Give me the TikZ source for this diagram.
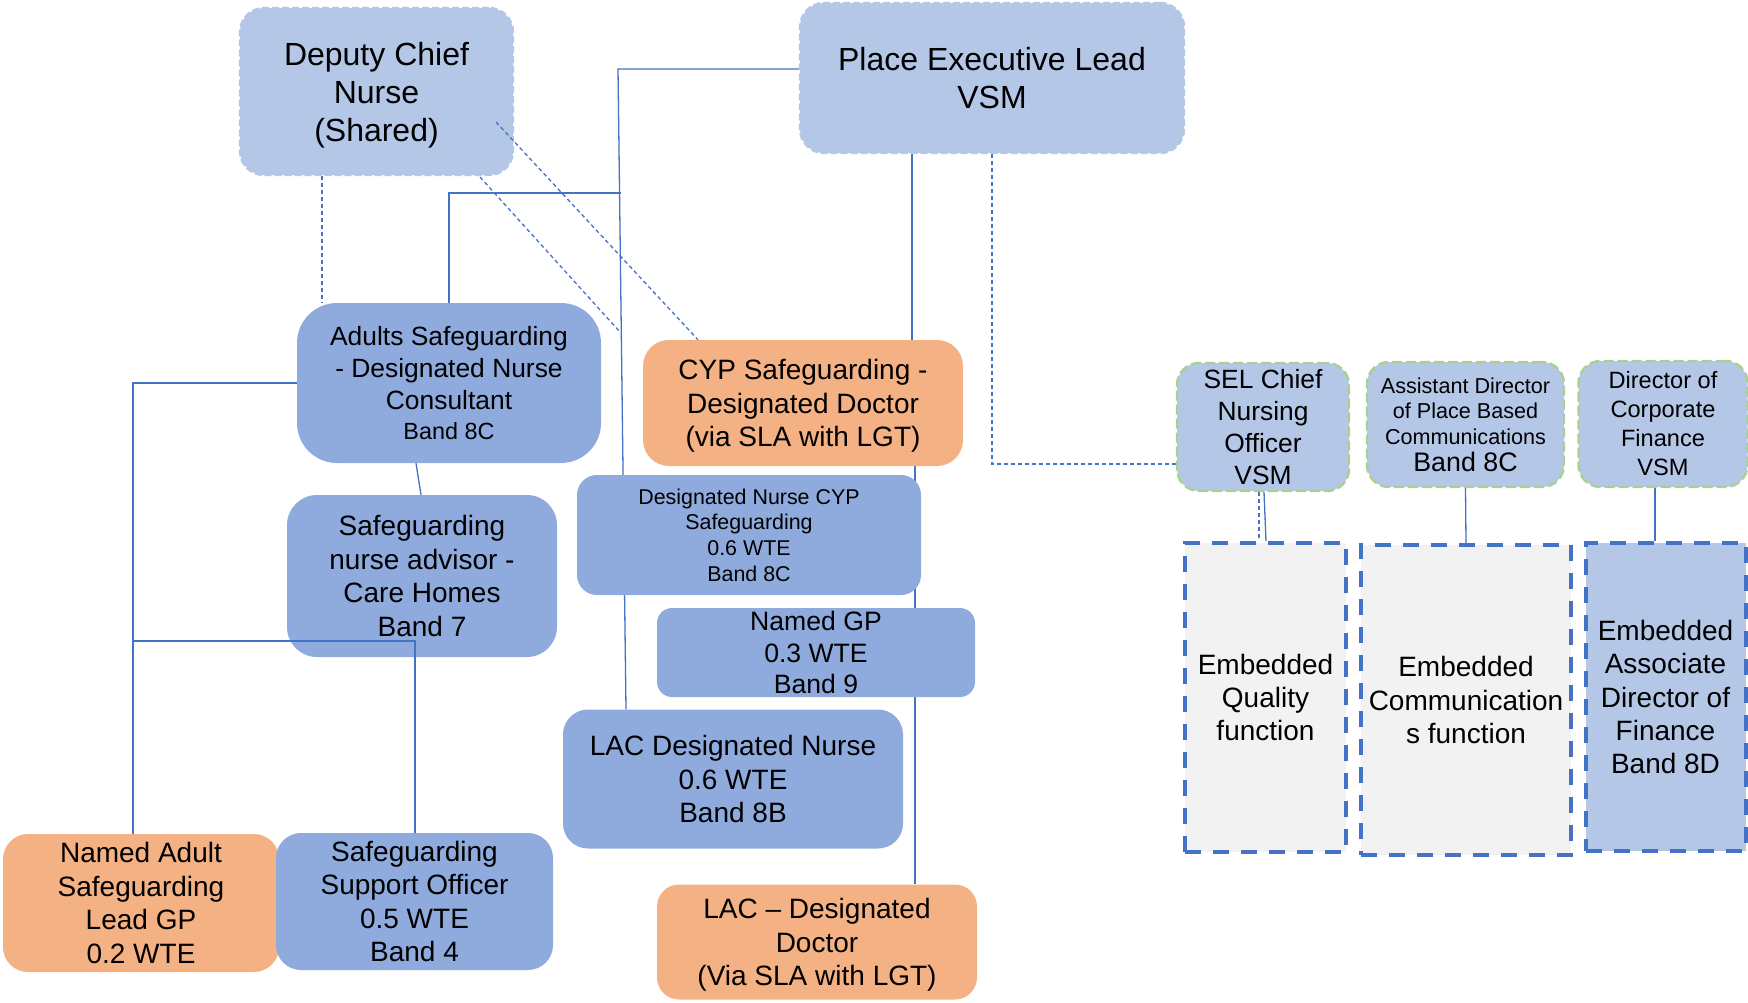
\documentclass[tikz,border=0pt]{standalone}
\usepackage{fontspec}
\setmainfont{Liberation Sans}
\usepackage{tikz}
\usetikzlibrary{positioning,backgrounds}
\usepackage{xcolor}
\definecolor{iceBlue}{HTML}{B4C7E7}
\definecolor{roleBlue}{HTML}{8FAADC}
\definecolor{gpPeach}{HTML}{F4B183}
\definecolor{lineBlue}{HTML}{4472C4}
\definecolor{leafGreen}{HTML}{A9D18E}
\definecolor{paperGrey}{HTML}{F2F2F2}
\newcommand{\fs}[2]{\fontsize{#1}{#2}\selectfont}

\begin{document}
\begin{tikzpicture}[x=1pt,y=-1pt,
  orgbox/.style={inner sep=0pt,align=center,rounded corners=#1},
  topbox/.style={orgbox=24pt,fill=iceBlue,draw=iceBlue,line width=2.4pt,dash pattern=on 7pt off 3pt},
  rolebox/.style={orgbox=#1,fill=roleBlue},
  gpbox/.style={orgbox=#1,fill=gpPeach},
  chiefbox/.style={orgbox=22pt,fill=iceBlue,draw=leafGreen,line width=2.4pt,dash pattern=on 10pt off 4pt},
  embedbox/.style={inner sep=0pt,align=center,draw=lineBlue,line width=4pt,dash pattern=on 16pt off 12pt,fill=paperGrey},
  solidlink/.style={lineBlue,line width=1.3pt},
  dashlink/.style={lineBlue,line width=1.3pt,dash pattern=on 4pt off 3pt}]
  \useasboundingbox (0,0) rectangle (1748,1002);

  \node[topbox,minimum width=273pt,minimum height=167pt,font=\fs{32}{38}] (dcn) at (376.5,91.5) {Deputy Chief\\Nurse\\\smash{(Shared)}};
  \node[topbox,minimum width=384pt,minimum height=150pt,font=\fs{32}{38}] (pel) at (992,78) {Place Executive Lead\\VSM};

  \node[rolebox=40pt,minimum width=304pt,minimum height=160pt,font=\fs{26.4}{32}] (adults) at (449,383) {Adults Safeguarding\\- Designated Nurse\\Consultant\\[-2pt]{\fs{23.4}{28}Band 8C}};
  \node[gpbox=26pt,minimum width=320pt,minimum height=126pt,font=\fs{28}{33.4}] (cyp) at (803,403) {CYP Safeguarding -\\Designated Doctor\\\smash{(via SLA with LGT)}};
  \node[rolebox=30pt,minimum width=270pt,minimum height=162pt,font=\fs{28}{33.4}] (advisor) at (422,576) {Safeguarding\\nurse advisor -\\Care Homes\\Band 7};
  \node[rolebox=20pt,minimum width=344pt,minimum height=120pt,font=\fs{21.4}{25.6}] (dncyp) at (749,535) {Designated Nurse CYP\\Safeguarding\\0.6 WTE\\Band 8C};
  \node[rolebox=15pt,minimum width=318pt,minimum height=89pt,font=\fs{26.6}{31.8}] (namedgp) at (816,652.5) {Named GP\\0.3 WTE\\Band 9};
  \node[rolebox=25pt,minimum width=340pt,minimum height=139pt,font=\fs{28}{33.4}] (lacn) at (733,779) {LAC Designated Nurse\\0.6 WTE\\Band 8B};
  \node[gpbox=25pt,minimum width=276pt,minimum height=138pt,font=\fs{28}{33.4}] (namedadult) at (141,903) {Named Adult\\Safeguarding\\Lead GP\\0.2 WTE};
  \node[rolebox=25pt,minimum width=277pt,minimum height=137pt,font=\fs{28}{33.4}] (sso) at (414.5,901.5) {Safeguarding\\Support Officer\\0.5 WTE\\Band 4};
  \node[gpbox=22pt,minimum width=320pt,minimum height=115pt,font=\fs{28}{33.4}] (lacd) at (817,942) {LAC – Designated\\Doctor\\\smash{(Via SLA with LGT)}};

  \node[chiefbox,minimum width=172pt,minimum height=128pt,font=\fs{26.4}{32}] (sel) at (1263,427) {SEL Chief\\Nursing\\Officer\\VSM};
  \node[chiefbox,minimum width=197pt,minimum height=125pt,font=\fs{21.6}{25.6}] (asst) at (1465.5,424.5) {Assistant Director\\of Place Based\\Communications\\[1.5pt]{\fs{26.8}{32}Band 8C}};
  \node[chiefbox,minimum width=169pt,minimum height=126pt,font=\fs{23.6}{29}] (dcf) at (1663,424) {Director of\\Corporate\\Finance\\VSM};

  \node[embedbox,minimum width=161pt,minimum height=309pt,font=\fs{28}{33.4}] (quality) at (1265.5,697.5) {Embedded\\Quality\\function};
  \node[embedbox,minimum width=210pt,minimum height=310pt,font=\fs{28}{33.4}] (comms) at (1466,700) {Embedded\\Communication\\s function};
  \node[embedbox,fill=iceBlue,minimum width=160pt,minimum height=308pt,font=\fs{28}{33.4}] (finance) at (1665.5,697) {Embedded\\Associate\\Director of\\Finance\\Band 8D};

  \begin{scope}[on background layer]
    \draw[solidlink] (pel.west |- 0,69) -- (618,69) -- (lacn.north -| 626,0);
    \draw[solidlink] (adults.north -| 449,0) -- (449,193) -- (621,193);
    \draw[solidlink] (pel.south -| 912,0) -- (cyp.north -| 912,0);
    \draw[solidlink] (cyp.south -| 915,0) -- (lacd.north -| 915,0);
    \draw[dashlink] (dcn.south -| 322,0) -- (adults.north -| 322,0);
    \draw[dashlink] (pel.south -| 992,0) -- (992,464) -- (sel.west |- 0,464);
    \draw[solidlink] (adults.south -| 416,0) -- (advisor.north -| 421,0);
    \draw[solidlink] (adults.west) -- (133,383) -- (namedadult.north -| 133,0);
    \draw[solidlink] (sel.south -| 1264,0) -- (quality.north -| 1266,0);
    \draw[dashlink] (sel.south -| 1259,0) -- (quality.north -| 1259,0);
    \draw[solidlink] (asst.south) -- (comms.north);
    \draw[solidlink] (dcf.south -| 1655,0) -- (finance.north -| 1655,0);
  \end{scope}

  \coordinate (dcnTap) at (496,122);
  \coordinate (dcnFoot) at (480,177);
  \coordinate (trunkEnd) at (620,332);
  \draw[dashlink] (dcnTap) -- (cyp.north -| 698,0);
  \draw[dashlink] (dcnFoot) -- (trunkEnd);
  \draw[solidlink] (133,641) -- (415,641) -- (sso.north -| 415,0);
\end{tikzpicture}
\end{document}
